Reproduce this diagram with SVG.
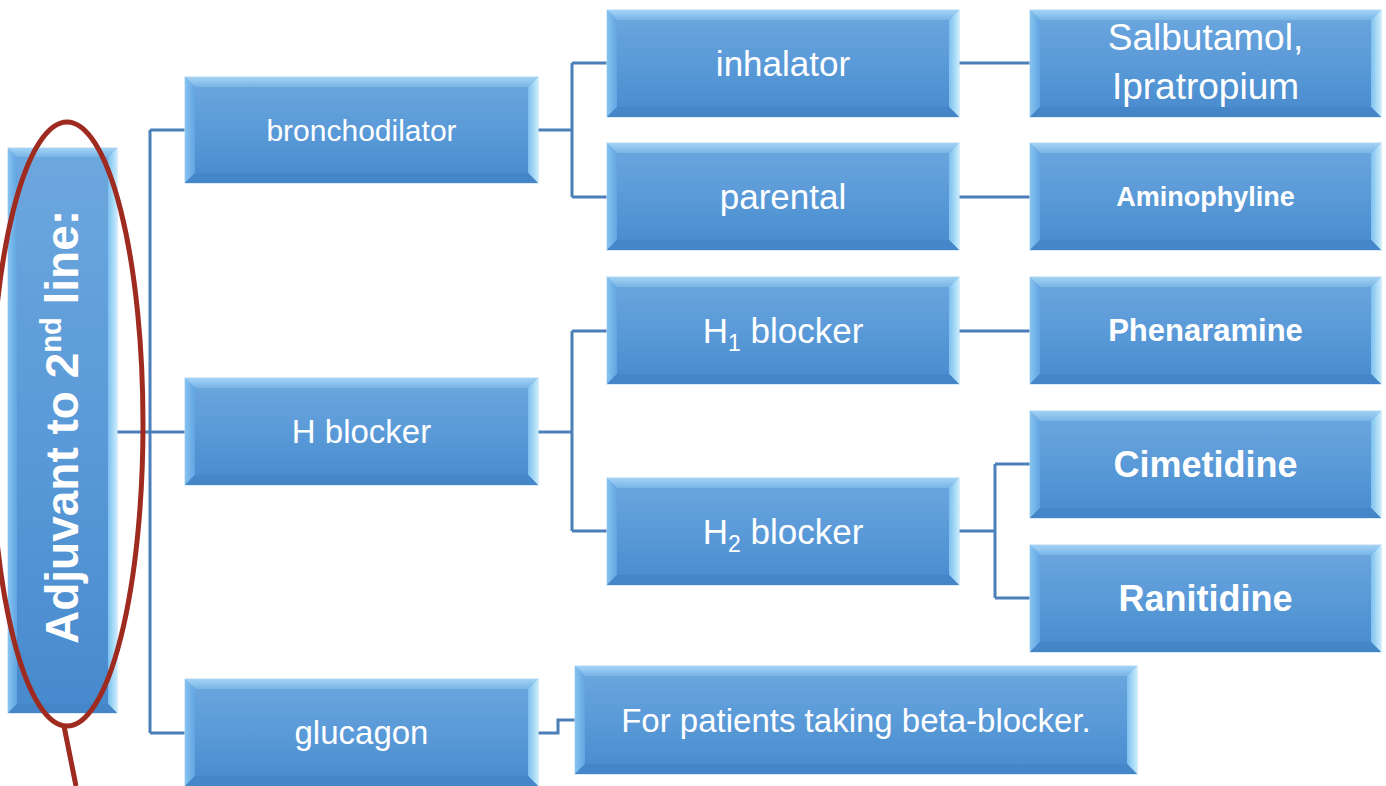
<svg xmlns="http://www.w3.org/2000/svg" width="1386" height="786" viewBox="0 0 1386 786">
<defs>
<linearGradient id="face" x1="0" y1="0" x2="0" y2="1">
<stop offset="0" stop-color="#6da7de"/>
<stop offset="0.5" stop-color="#5a9ad8"/>
<stop offset="1" stop-color="#478acd"/>
</linearGradient>
<linearGradient id="topb" x1="0" y1="0" x2="0" y2="1">
<stop offset="0" stop-color="#a3d3f5"/>
<stop offset="1" stop-color="#78b4e6"/>
</linearGradient>
<linearGradient id="rightb" x1="0" y1="0" x2="1" y2="0">
<stop offset="0" stop-color="#7cc0ee"/>
<stop offset="1" stop-color="#c8ecfc"/>
</linearGradient>
<linearGradient id="leftb" x1="0" y1="0" x2="1" y2="0">
<stop offset="0" stop-color="#86c3f0"/>
<stop offset="1" stop-color="#62a4e2"/>
</linearGradient>
</defs>
<style>
.face{fill:url(#face);stroke:#c3def4;stroke-width:1.2}
.bt{fill:url(#topb)}
.bl{fill:url(#leftb)}
.br{fill:url(#rightb)}
.bb{fill:#4586c9}
.t{fill:#ffffff;font-family:"Liberation Sans",Arial,sans-serif;text-anchor:middle}
.b{font-weight:bold}
.conn{fill:none;stroke:#4a7fba;stroke-width:3}
.ring{fill:none;stroke:#9e2a20;stroke-width:5}
</style>
<rect width="1386" height="786" fill="#ffffff"/>

<g id="connectors">
<path class="conn" d="M117,432 H185 M150,130 V733 M150,130 H185 M150,733 H185"/>
<path class="conn" d="M538,130 H572 M572,63 V197 M572,63 H607 M572,197 H607"/>
<path class="conn" d="M538,432 H572 M572,331 V531 M572,331 H607 M572,531 H607"/>
<path class="conn" d="M959,63 H1030 M959,197 H1030 M959,331 H1030"/>
<path class="conn" d="M959,531 H995 M995,464 V598 M995,464 H1030 M995,598 H1030"/>
<path class="conn" d="M538,733 H558 V720 H575"/>
</g>

<g id="root">
<rect class="face" x="8" y="148" width="109" height="565"/>
<polygon class="bt" points="8,148 117,148 108,157 17,157"/>
<polygon class="bl" points="8,148 17,157 17,704 8,713"/>
<polygon class="br" points="117,148 117,713 108,704 108,157"/>
<polygon class="bb" points="8,713 117,713 108,704 17,704"/>
<text class="t b" font-size="46" transform="translate(78,427) rotate(-90)" x="0" y="0">Adjuvant to 2<tspan font-size="29" dy="-17">nd</tspan><tspan dy="17"> line:</tspan></text>
</g>

<g id="bronchodilator">
<rect class="face" x="185" y="77" width="353" height="106"/>
<polygon class="bt" points="185,77 538,77 528,87 195,87"/>
<polygon class="bl" points="185,77 195,87 195,173 185,183"/>
<polygon class="br" points="538,77 538,183 528,173 528,87"/>
<polygon class="bb" points="185,183 538,183 528,173 195,173"/>
<text class="t" font-size="30" x="361.5" y="140.5">bronchodilator</text>
</g>

<g id="hblocker">
<rect class="face" x="185" y="378" width="353" height="107"/>
<polygon class="bt" points="185,378 538,378 528,388 195,388"/>
<polygon class="bl" points="185,378 195,388 195,475 185,485"/>
<polygon class="br" points="538,378 538,485 528,475 528,388"/>
<polygon class="bb" points="185,485 538,485 528,475 195,475"/>
<text class="t" font-size="33" x="361.5" y="443">H blocker</text>
</g>

<g id="glucagon">
<rect class="face" x="185" y="679" width="353" height="107"/>
<polygon class="bt" points="185,679 538,679 528,689 195,689"/>
<polygon class="bl" points="185,679 195,689 195,776 185,786"/>
<polygon class="br" points="538,679 538,786 528,776 528,689"/>
<polygon class="bb" points="185,786 538,786 528,776 195,776"/>
<text class="t" font-size="33" x="361.5" y="744">glucagon</text>
</g>

<g id="inhalator">
<rect class="face" x="607" y="10" width="352" height="107"/>
<polygon class="bt" points="607,10 959,10 949,20 617,20"/>
<polygon class="bl" points="607,10 617,20 617,107 607,117"/>
<polygon class="br" points="959,10 959,117 949,107 949,20"/>
<polygon class="bb" points="607,117 959,117 949,107 617,107"/>
<text class="t" font-size="35" x="783" y="76">inhalator</text>
</g>

<g id="parental">
<rect class="face" x="607" y="143" width="352" height="107"/>
<polygon class="bt" points="607,143 959,143 949,153 617,153"/>
<polygon class="bl" points="607,143 617,153 617,240 607,250"/>
<polygon class="br" points="959,143 959,250 949,240 949,153"/>
<polygon class="bb" points="607,250 959,250 949,240 617,240"/>
<text class="t" font-size="35" x="783" y="209">parental</text>
</g>

<g id="h1blocker">
<rect class="face" x="607" y="277" width="352" height="107"/>
<polygon class="bt" points="607,277 959,277 949,287 617,287"/>
<polygon class="bl" points="607,277 617,287 617,374 607,384"/>
<polygon class="br" points="959,277 959,384 949,374 949,287"/>
<polygon class="bb" points="607,384 959,384 949,374 617,374"/>
<text class="t" font-size="35" x="783" y="343">H<tspan font-size="23" dy="8">1</tspan><tspan dy="-8"> blocker</tspan></text>
</g>

<g id="h2blocker">
<rect class="face" x="607" y="478" width="352" height="107"/>
<polygon class="bt" points="607,478 959,478 949,488 617,488"/>
<polygon class="bl" points="607,478 617,488 617,575 607,585"/>
<polygon class="br" points="959,478 959,585 949,575 949,488"/>
<polygon class="bb" points="607,585 959,585 949,575 617,575"/>
<text class="t" font-size="35" x="783" y="544">H<tspan font-size="23" dy="8">2</tspan><tspan dy="-8"> blocker</tspan></text>
</g>

<g id="salbutamol">
<rect class="face" x="1030" y="10" width="351" height="107"/>
<polygon class="bt" points="1030,10 1381,10 1371,20 1040,20"/>
<polygon class="bl" points="1030,10 1040,20 1040,107 1030,117"/>
<polygon class="br" points="1381,10 1381,117 1371,107 1371,20"/>
<polygon class="bb" points="1030,117 1381,117 1371,107 1040,107"/>
<text class="t" font-size="37" x="1205.5" y="50">Salbutamol,</text>
<text class="t" font-size="37" x="1205.5" y="99">Ipratropium</text>
</g>

<g id="aminophyline">
<rect class="face" x="1030" y="143" width="351" height="107"/>
<polygon class="bt" points="1030,143 1381,143 1371,153 1040,153"/>
<polygon class="bl" points="1030,143 1040,153 1040,240 1030,250"/>
<polygon class="br" points="1381,143 1381,250 1371,240 1371,153"/>
<polygon class="bb" points="1030,250 1381,250 1371,240 1040,240"/>
<text class="t b" font-size="27" x="1205.5" y="206">Aminophyline</text>
</g>

<g id="phenaramine">
<rect class="face" x="1030" y="277" width="351" height="107"/>
<polygon class="bt" points="1030,277 1381,277 1371,287 1040,287"/>
<polygon class="bl" points="1030,277 1040,287 1040,374 1030,384"/>
<polygon class="br" points="1381,277 1381,384 1371,374 1371,287"/>
<polygon class="bb" points="1030,384 1381,384 1371,374 1040,374"/>
<text class="t b" font-size="31" x="1205.5" y="341">Phenaramine</text>
</g>

<g id="cimetidine">
<rect class="face" x="1030" y="411" width="351" height="107"/>
<polygon class="bt" points="1030,411 1381,411 1371,421 1040,421"/>
<polygon class="bl" points="1030,411 1040,421 1040,508 1030,518"/>
<polygon class="br" points="1381,411 1381,518 1371,508 1371,421"/>
<polygon class="bb" points="1030,518 1381,518 1371,508 1040,508"/>
<text class="t b" font-size="36" x="1205.5" y="477">Cimetidine</text>
</g>

<g id="ranitidine">
<rect class="face" x="1030" y="545" width="351" height="107"/>
<polygon class="bt" points="1030,545 1381,545 1371,555 1040,555"/>
<polygon class="bl" points="1030,545 1040,555 1040,642 1030,652"/>
<polygon class="br" points="1381,545 1381,652 1371,642 1371,555"/>
<polygon class="bb" points="1030,652 1381,652 1371,642 1040,642"/>
<text class="t b" font-size="36" x="1205.5" y="611">Ranitidine</text>
</g>

<g id="forpatients">
<rect class="face" x="575" y="666" width="562" height="108"/>
<polygon class="bt" points="575,666 1137,666 1127,676 585,676"/>
<polygon class="bl" points="575,666 585,676 585,764 575,774"/>
<polygon class="br" points="1137,666 1137,774 1127,764 1127,676"/>
<polygon class="bb" points="575,774 1137,774 1127,764 585,764"/>
<text class="t" font-size="33" x="856" y="732">For patients taking beta-blocker.</text>
</g>

<g id="highlight">
<ellipse class="ring" cx="67" cy="424" rx="76" ry="302"/>
<path class="ring" d="M64,726 L76,786"/>
</g>
</svg>
